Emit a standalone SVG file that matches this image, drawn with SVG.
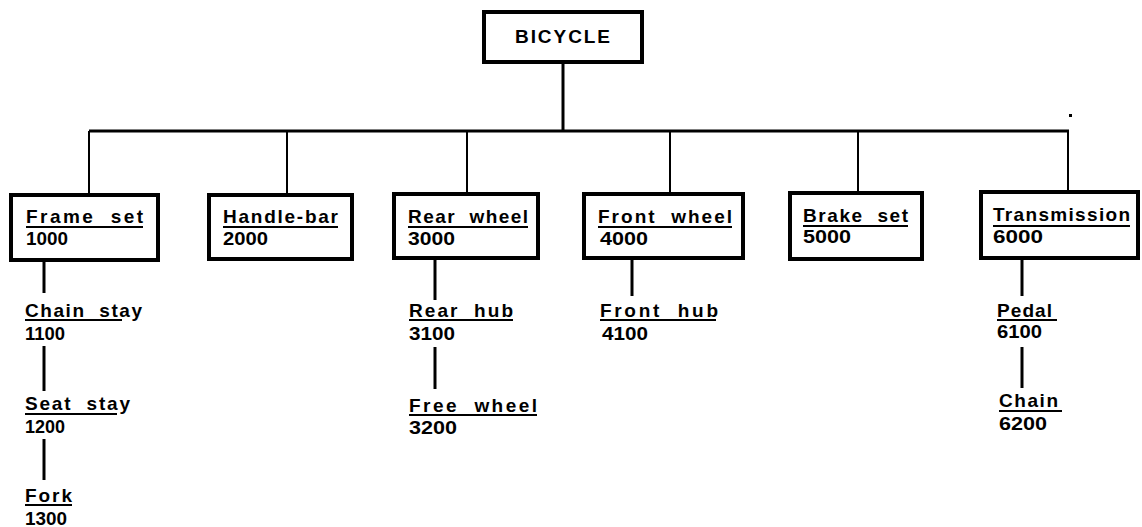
<svg xmlns="http://www.w3.org/2000/svg" width="1142" height="527" viewBox="0 0 1142 527">
<style>
.box{fill:#fff;stroke:#000;stroke-width:4}
.t{font-family:"Liberation Sans",Arial,sans-serif;font-weight:bold;font-size:19px;fill:#000;white-space:pre}
.n{font-family:"Liberation Sans",Arial,sans-serif;font-weight:bold;font-size:18px;fill:#000}
.ul{stroke:#000;stroke-width:2}
.c{stroke:#000;stroke-width:3;fill:none}
.d{stroke:#000;stroke-width:2;fill:none}
</style>
<rect width="1142" height="527" fill="#fff"/>
<g id="connectors">
<line class="c" x1="563" y1="62" x2="563" y2="131"/>
<line class="c" x1="89" y1="131" x2="1069" y2="131"/>
<line class="d" x1="89" y1="131" x2="89" y2="195"/>
<line class="d" x1="287" y1="131" x2="287" y2="195"/>
<line class="d" x1="467" y1="131" x2="467" y2="194"/>
<line class="d" x1="670" y1="131" x2="670" y2="194"/>
<line class="d" x1="858" y1="131" x2="858" y2="193"/>
<line class="d" x1="1068" y1="131" x2="1068" y2="192"/>
<line class="c" x1="44" y1="260" x2="44" y2="293"/>
<line class="c" x1="44" y1="346" x2="44" y2="391"/>
<line class="c" x1="44" y1="439" x2="44" y2="480"/>
<line class="c" x1="435" y1="258" x2="435" y2="300"/>
<line class="c" x1="435" y1="347" x2="435" y2="389"/>
<line class="c" x1="632" y1="258" x2="632" y2="296"/>
<line class="c" x1="1022" y1="258" x2="1022" y2="296"/>
<line class="c" x1="1022" y1="347" x2="1022" y2="388"/>
<rect x="1069" y="114" width="3" height="3" fill="#000"/>
</g>
<g id="bicycle">
<rect class="box" x="484" y="12" width="158" height="50"/>
<text class="t" x="515" y="43" font-size="21" textLength="95" lengthAdjust="spacing">BICYCLE</text>
</g>
<g id="frame-set">
<rect class="box" x="11" y="195" width="147" height="65"/>
<text class="t" x="26" y="223" textLength="117" lengthAdjust="spacing" xml:space="preserve">Frame  set</text>
<line class="ul" x1="26" y1="227" x2="143" y2="227"/>
<text class="n" x="26" y="245" textLength="42" lengthAdjust="spacingAndGlyphs">1000</text>
</g>
<g id="handle-bar">
<rect class="box" x="209" y="195" width="143" height="64"/>
<text class="t" x="223" y="223" textLength="115" lengthAdjust="spacing">Handle-bar</text>
<line class="ul" x1="223" y1="227" x2="338" y2="227"/>
<text class="n" x="223" y="245" textLength="45" lengthAdjust="spacingAndGlyphs">2000</text>
</g>
<g id="rear-wheel">
<rect class="box" x="394" y="194" width="144" height="64"/>
<text class="t" x="408" y="223" textLength="120" lengthAdjust="spacing" xml:space="preserve">Rear  wheel</text>
<line class="ul" x1="408" y1="227" x2="528" y2="227"/>
<text class="n" x="408" y="245" textLength="47" lengthAdjust="spacingAndGlyphs">3000</text>
</g>
<g id="front-wheel">
<rect class="box" x="584" y="194" width="159" height="64"/>
<text class="t" x="598" y="223" textLength="134" lengthAdjust="spacing" xml:space="preserve">Front  wheel</text>
<line class="ul" x1="598" y1="227" x2="732" y2="227"/>
<text class="n" x="600" y="245" textLength="48" lengthAdjust="spacingAndGlyphs">4000</text>
</g>
<g id="brake-set">
<rect class="box" x="790" y="193" width="132" height="66"/>
<text class="t" x="803" y="222" textLength="105" lengthAdjust="spacing" xml:space="preserve">Brake  set</text>
<line class="ul" x1="803" y1="226" x2="908" y2="226"/>
<text class="n" x="803" y="243" font-size="17" textLength="48" lengthAdjust="spacingAndGlyphs">5000</text>
</g>
<g id="transmission">
<rect class="box" x="981" y="192" width="157" height="66"/>
<text class="t" x="993" y="221" textLength="137" lengthAdjust="spacing">Transmission</text>
<line class="ul" x1="993" y1="226" x2="1130" y2="226"/>
<text class="n" x="993" y="243" font-size="17" textLength="50" lengthAdjust="spacingAndGlyphs">6000</text>
</g>
<g id="chain-stay">
<text class="t" x="25" y="317" textLength="117" lengthAdjust="spacing" xml:space="preserve">Chain  stay</text>
<line class="ul" x1="25" y1="320" x2="122" y2="320"/>
<text class="n" x="25" y="340" textLength="40" lengthAdjust="spacingAndGlyphs">1100</text>
</g>
<g id="seat-stay">
<text class="t" x="25" y="410" textLength="105" lengthAdjust="spacing" xml:space="preserve">Seat  stay</text>
<line class="ul" x1="25" y1="414" x2="117" y2="414"/>
<text class="n" x="25" y="433" textLength="40" lengthAdjust="spacingAndGlyphs">1200</text>
</g>
<g id="fork">
<text class="t" x="25" y="502" textLength="47" lengthAdjust="spacing">Fork</text>
<line class="ul" x1="25" y1="505" x2="72" y2="505"/>
<text class="n" x="25" y="525" textLength="42" lengthAdjust="spacingAndGlyphs">1300</text>
</g>
<g id="rear-hub">
<text class="t" x="409" y="317" textLength="104" lengthAdjust="spacing" xml:space="preserve">Rear  hub</text>
<line class="ul" x1="409" y1="320" x2="513" y2="320"/>
<text class="n" x="409" y="340" textLength="46" lengthAdjust="spacingAndGlyphs">3100</text>
</g>
<g id="free-wheel">
<text class="t" x="409" y="412" textLength="128" lengthAdjust="spacing" xml:space="preserve">Free  wheel</text>
<line class="ul" x1="409" y1="415" x2="537" y2="415"/>
<text class="n" x="409" y="434" textLength="48" lengthAdjust="spacingAndGlyphs">3200</text>
</g>
<g id="front-hub">
<text class="t" x="600" y="317" textLength="118" lengthAdjust="spacing" xml:space="preserve">Front  hub</text>
<line class="ul" x1="600" y1="320" x2="716" y2="320"/>
<text class="n" x="602" y="340" textLength="46" lengthAdjust="spacingAndGlyphs">4100</text>
</g>
<g id="pedal">
<text class="t" x="997" y="317" textLength="55" lengthAdjust="spacing">Pedal</text>
<line class="ul" x1="997" y1="320" x2="1057" y2="320"/>
<text class="n" x="997" y="338" textLength="45" lengthAdjust="spacingAndGlyphs">6100</text>
</g>
<g id="chain">
<text class="t" x="999" y="407" textLength="59" lengthAdjust="spacing">Chain</text>
<line class="ul" x1="999" y1="411" x2="1062" y2="411"/>
<text class="n" x="999" y="430" textLength="48" lengthAdjust="spacingAndGlyphs">6200</text>
</g>
</svg>
